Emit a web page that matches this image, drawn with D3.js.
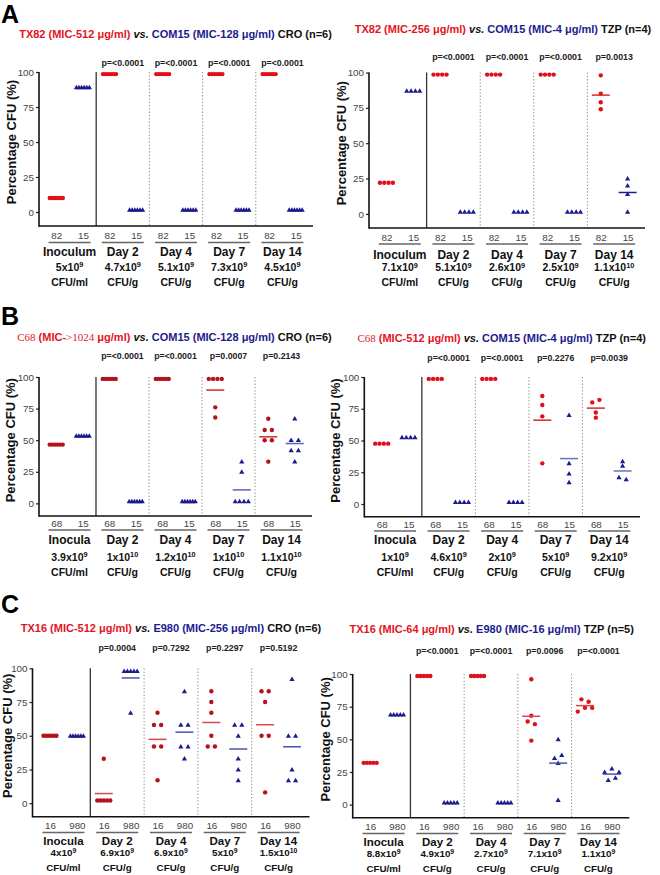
<!DOCTYPE html>
<html><head><meta charset="utf-8">
<script src="https://cdn.jsdelivr.net/npm/d3@7"></script>
<style>body{margin:0;background:#fff} svg{display:block}</style>
</head><body><svg id="c" width="660" height="875"></svg>
<script>
// ================= DATA =================
const groupsA = ["Inoculum", "Day 2", "Day 4", "Day 7", "Day 14"];
const groupsBC = ["Inocula", "Day 2", "Day 4", "Day 7", "Day 14"];
const yTickValues = [0, 25, 50, 75, 100];
const yLabelText = "Percentage CFU (%)";
const unitsRow = ["CFU/ml", "CFU/g", "CFU/g", "CFU/g", "CFU/g"];

// Panel A left: TX82 vs COM15, CRO (n=6)
const aLeftTitle = [["TX82 (MIC-512 μg/ml) ", "red"], ["vs.", "blackItalic"], [" COM15 (MIC-128 μg/ml)", "blue"], [" CRO (n=6)", "black"]];
const aLeftStrains = ["82", "15"];
const aLeftRed = [[10,10,10,10,10,10],[98.5,98.5,98.5,98.5,98.5,98.5],[98.5,98.5,98.5,98.5,98.5,98.5],[98.5,98.5,98.5,98.5,98.5,98.5],[98.5,98.5,98.5,98.5,98.5,98.5]];
const aLeftBlue = [[89,89,89,89,89,89],[1.5,1.5,1.5,1.5,1.5,1.5],[1.5,1.5,1.5,1.5,1.5,1.5],[1.5,1.5,1.5,1.5,1.5,1.5],[1.5,1.5,1.5,1.5,1.5,1.5]];
const aLeftP = ["p=<0.0001", "p=<0.0001", "p=<0.0001", "p=<0.0001"];
const aLeftCfuBase = ["5", "4.7", "5.1", "7.3", "4.5"];
const aLeftCfuExp = ["9", "9", "9", "9", "9"];

// Panel A right: TX82 vs COM15, TZP (n=4)
const aRightTitle = [["TX82 (MIC-256 μg/ml) ", "red"], ["vs.", "blackItalic"], [" COM15 (MIC-4 μg/ml)", "blue"], [" TZP (n=4)", "black"]];
const aRightStrains = ["82", "15"];
const aRightRed = [[22,22,22,22],[98.5,98.5,98.5,98.5],[98.5,98.5,98.5,98.5],[98.5,98.5,98.5,98.5],[98,85,79,74]];
const aRightBlue = [[87,87,87,87],[1.5,1.5,1.5,1.5],[1.5,1.5,1.5,1.5],[1.5,1.5,1.5,1.5],[25,20,14,1.5]];
const aRightP = ["p=<0.0001", "p=<0.0001", "p=<0.0001", "p=0.0013"];
const aRightCfuBase = ["7.1", "5.1", "2.6", "2.5", "1.1"];
const aRightCfuExp = ["9", "9", "9", "9", "10"];

// Panel B left: C68 vs COM15, CRO (n=6)
const bLeftTitle = [["C68", "redSerif"], [" (MIC-", "red"], [">1024", "redSerif"], [" μg/ml) ", "red"], ["vs.", "blackItalic"], [" COM15 (MIC-128 μg/ml)", "blue"], [" CRO (n=6)", "black"]];
const bLeftStrains = ["68", "15"];
const bLeftRed = [[46.5,46.5,46.5,46.5,46.5,46.5],[98.5,98.5,98.5,98.5,98.5,98.5],[98.5,98.5,98.5,98.5,98.5,98.5],[98.5,98.5,98.5,98.5,76,68],[67,58,58,50,50,33]];
const bLeftBlue = [[53.5,53.5,53.5,53.5,53.5,53.5],[1.5,1.5,1.5,1.5,1.5,1.5],[1.5,1.5,1.5,1.5,1.5,1.5],[33,25,1.5,1.5,1.5,1.5],[67,50,50,42,42,33]];
const bLeftP = ["p=<0.0001", "p=<0.0001", "p=0.0007", "p=0.2143"];
const bLeftCfuBase = ["3.9", "1", "1.2", "1", "1.1"];
const bLeftCfuExp = ["9", "10", "10", "10", "10"];

// Panel B right: C68 vs COM15, TZP (n=4)
const bRightTitle = [["C68", "redSerif"], [" (MIC-512 μg/ml) ", "red"], ["vs.", "blackItalic"], [" COM15 (MIC-4 μg/ml)", "blue"], [" TZP (n=4)", "black"]];
const bRightStrains = ["68", "15"];
const bRightRed = [[47.5,47.5,47.5,47.5],[98.5,98.5,98.5,98.5],[98.5,98.5,98.5,98.5],[85,78,69,32],[80,82,72,68]];
const bRightBlue = [[52.5,52.5,52.5,52.5],[1.5,1.5,1.5,1.5],[1.5,1.5,1.5,1.5],[70,32,24,17],[33.5,30,21,19.5]];
const bRightP = ["p=<0.0001", "p=<0.0001", "p=0.2276", "p=0.0039"];
const bRightCfuBase = ["1", "4.6", "2", "5", "9.2"];
const bRightCfuExp = ["9", "9", "9", "9", "9"];

// Panel C left: TX16 vs E980, CRO (n=6)
const cLeftTitle = [["TX16 (MIC-512 μg/ml) ", "red"], ["vs.", "blackItalic"], [" E980 (MIC-256 μg/ml)", "blue"], [" CRO (n=6)", "black"]];
const cLeftStrains = ["16", "980"];
const cLeftRed = [[50,50,50,50,50,50],[33,2,2,2,2,2],[67,58,58,42,42,17],[83,75,67,50,42,42],[83,83,75,50,50,8]];
const cLeftBlue = [[50,50,50,50,50,50],[98,98,98,98,98,67],[83,58,58,42,42,33],[58,58,50,33,25,17],[92,50,50,25,17,17]];
const cLeftP = ["p=0.0004", "p=0.7292", "p=0.2297", "p=0.5192"];
const cLeftCfuBase = ["4", "6.9", "6.9", "5", "1.5"];
const cLeftCfuExp = ["9", "9", "9", "9", "10"];

// Panel C right: TX16 vs E980, TZP (n=5)
const cRightTitle = [["TX16 (MIC-64 μg/ml) ", "red"], ["vs.", "blackItalic"], [" E980 (MIC-16 μg/ml)", "blue"], [" TZP (n=5)", "black"]];
const cRightStrains = ["16", "980"];
const cRightRed = [[32,32,32,32,32],[98.5,98.5,98.5,98.5,98.5],[98.5,98.5,98.5,98.5,98.5],[96,68,63.6,61.6,49],[80.6,78.8,71.2,74.2,74.2]];
const cRightBlue = [[69,69,69,69,69],[1.5,1.5,1.5,1.5,1.5],[1.5,1.5,1.5,1.5,1.5],[50,35.6,38,31.8,3.5],[25,27.6,25,18.7,20.5]];
const cRightP = ["p=<0.0001", "p=<0.0001", "p=0.0096", "p=<0.0001"];
const cRightCfuBase = ["8.8", "4.9", "2.7", "7.1", "1.1"];
const cRightCfuExp = ["9", "9", "9", "9", "9"];

// ================= STYLE / LAYOUT =================
const SANS = '"Liberation Sans", Arial, Helvetica, sans-serif';
const SERIF = '"Liberation Serif", "Times New Roman", serif';
const COLORS = { red: "#e3141d", blue: "#1b1b8e", black: "#111" };
const svg = d3.select("#c");

const layouts = {
  aL: { x0: 39, x1: 313, yTop: 72, yAxis: 226, titleCx: 175.5, titleY: 37.5, pY: 65.5, tickY: 239, ulY: 242.5, groupY: 255.5, cfuY: 270.5, unitY: 286, ylabX: 11, gFs: 12, cFs: 10.5, dot: "#e0101a", redMean: "#d62a2a", blueMean: "#1b1b8e" },
  aR: { x0: 369, x1: 645, yTop: 72.5, yAxis: 228, titleCx: 503, titleY: 32.5, pY: 59.5, tickY: 240.5, ulY: 244, groupY: 258.5, cfuY: 271, unitY: 286, ylabX: 341, gFs: 12, cFs: 10.5, dot: "#e0101a", redMean: "#d62a2a", blueMean: "#1b1b8e" },
  bL: { x0: 39, x1: 312, yTop: 377, yAxis: 516, titleCx: 174.5, titleY: 341, pY: 359, tickY: 527, ulY: 530, groupY: 544, cfuY: 560.5, unitY: 575.5, ylabX: 10, gFs: 12, cFs: 10.5, dot: "#b3121c", redMean: "#d42a2a", blueMean: "#5a64b8" },
  bR: { x0: 364.3, x1: 640, yTop: 377, yAxis: 516.7, titleCx: 501.7, titleY: 342, pY: 361, tickY: 528, ulY: 531, groupY: 544, cfuY: 560.5, unitY: 575.5, ylabX: 335.5, gFs: 12, cFs: 10.5, dot: "#e0101a", redMean: "#d42a2a", blueMean: "#6a72c0" },
  cL: { x0: 32.5, x1: 309.5, yTop: 668.3, yAxis: 816.7, titleCx: 171, titleY: 632, pY: 651, tickY: 829.5, ulY: 832.5, groupY: 844.5, cfuY: 856, unitY: 870.5, ylabX: 7, gFs: 11.5, cFs: 9.8, dot: "#b3121c", redMean: "#d9474d", blueMean: "#4a55b0" },
  cR: { x0: 352.7, x1: 629.3, yTop: 674, yAxis: 817.7, titleCx: 491.7, titleY: 633, pY: 654, tickY: 830.5, ulY: 833.5, groupY: 845.5, cfuY: 857, unitY: 871.5, ylabX: 325, gFs: 11.5, cFs: 9.8, dot: "#e0101a", redMean: "#d9474d", blueMean: "#4a55b0" }
};

function segStyle(sel, kind) {
  if (kind === "red") sel.attr("fill", COLORS.red);
  else if (kind === "redSerif") sel.attr("fill", COLORS.red).attr("font-family", SERIF).attr("font-weight", "normal");
  else if (kind === "blue") sel.attr("fill", COLORS.blue);
  else if (kind === "blackItalic") sel.attr("fill", COLORS.black).attr("font-style", "italic");
  else sel.attr("fill", COLORS.black);
}

function layoutPoints(vals, cx, y) {
  const out = new Array(vals.length);
  const order = vals.map((v, i) => i).sort((a, b) => vals[b] - vals[a]);
  const rows = [];
  let cur = [order[0]];
  for (let k = 1; k < order.length; k++) {
    if (Math.abs(y(vals[order[k]]) - y(vals[order[k - 1]])) < 4.2) cur.push(order[k]);
    else { rows.push(cur); cur = [order[k]]; }
  }
  rows.push(cur);
  rows.forEach(r => {
    r.sort((a, b) => a - b);
    const n = r.length;
    const sp = n <= 3 ? 7.2 : 13 / (n - 1);
    r.forEach((i, j) => { out[i] = { x: cx + (j - (n - 1) / 2) * sp, y: y(vals[i]) }; });
  });
  return out;
}

const triPath = "M0,-2.6L2.6,1.9L-2.6,1.9Z";

function drawPanel(L, title, groups, strains, red, blue, pvals, cfuBase, cfuExp) {
  const g = svg.append("g");
  const x = d3.scaleLinear().domain([-0.65, 9.65]).range([L.x0, L.x1]);
  const y = d3.scaleLinear().domain([-10, 100]).range([L.yAxis, L.yTop]);

  // title
  const t = g.append("text").attr("x", L.titleCx).attr("y", L.titleY).attr("text-anchor", "middle")
    .attr("font-family", SANS).attr("font-weight", "bold").attr("font-size", 11);
  title.forEach(([txt, kind]) => segStyle(t.append("tspan").text(txt), kind));

  // separators
  for (let s = 0; s < 4; s++) {
    const xs = x(2 * s + 1.5);
    g.append("line").attr("x1", xs).attr("x2", xs).attr("y1", L.yTop).attr("y2", L.yAxis)
      .attr("stroke", s === 0 ? "#333" : "#8a8a8a").attr("stroke-width", s === 0 ? 1.3 : 1)
      .attr("stroke-dasharray", s === 0 ? null : "1.3,2");
  }

  // y axis
  const ya = g.append("g").attr("transform", `translate(${L.x0},0)`)
    .call(d3.axisLeft(y).tickValues(yTickValues).tickSize(3).tickPadding(2));
  ya.select(".domain").remove();
  ya.selectAll(".tick line").attr("stroke", "#222").attr("stroke-width", 1.2);
  ya.selectAll(".tick text").attr("font-family", SANS).attr("font-size", 9.8).attr("fill", "#444");
  g.append("line").attr("x1", L.x0).attr("x2", L.x0).attr("y1", L.yTop).attr("y2", L.yAxis + 0.8)
    .attr("stroke", "#111").attr("stroke-width", 1.6);

  // x axis
  const positions = d3.range(10);
  const xa = g.append("g").attr("transform", `translate(0,${L.yAxis})`)
    .call(d3.axisBottom(x).tickValues(positions).tickSize(0).tickPadding(0).tickFormat(i => strains[i % 2]));
  xa.select(".domain").remove();
  xa.selectAll(".tick text").attr("font-family", SANS).attr("font-size", 9.8).attr("fill", "#444")
    .attr("dy", null).attr("y", L.tickY - L.yAxis);
  g.append("line").attr("x1", L.x0).attr("x2", L.x1).attr("y1", L.yAxis).attr("y2", L.yAxis)
    .attr("stroke", "#111").attr("stroke-width", 1.6);

  // group underlines, labels, cfu, p-values
  groups.forEach((name, gi) => {
    const cx = (x(2 * gi) + x(2 * gi + 1)) / 2;
    g.append("line").attr("x1", cx - 21).attr("x2", cx + 21).attr("y1", L.ulY).attr("y2", L.ulY)
      .attr("stroke", "#666").attr("stroke-width", 1.4);
    g.append("text").attr("x", cx).attr("y", L.groupY).attr("text-anchor", "middle")
      .attr("font-family", SANS).attr("font-weight", "bold").attr("font-size", L.gFs).attr("fill", "#111").text(name);
    const c = g.append("text").attr("x", cx).attr("y", L.cfuY).attr("text-anchor", "middle")
      .attr("font-family", SANS).attr("font-weight", "bold").attr("font-size", L.cFs).attr("fill", "#111");
    c.append("tspan").text(cfuBase[gi] + "x10");
    c.append("tspan").attr("dy", -3.5).attr("font-size", L.cFs * 0.7).text(cfuExp[gi]);
    g.append("text").attr("x", cx).attr("y", L.unitY).attr("text-anchor", "middle")
      .attr("font-family", SANS).attr("font-weight", "bold").attr("font-size", L.cFs).attr("fill", "#111").text(unitsRow[gi]);
    if (gi > 0) {
      g.append("text").attr("x", cx).attr("y", L.pY).attr("text-anchor", "middle")
        .attr("font-family", SANS).attr("font-weight", "bold").attr("font-size", 8.8).attr("fill", "#222").text(pvals[gi - 1]);
    }
  });

  // y label
  g.append("text").attr("transform", `translate(${L.ylabX},${(L.yTop + y(0)) / 2}) rotate(-90)`)
    .attr("text-anchor", "middle").attr("dominant-baseline", "central")
    .attr("font-family", SANS).attr("font-weight", "bold").attr("font-size", 13).attr("fill", "#111").text(yLabelText);

  // points + means
  groups.forEach((name, gi) => {
    const rv = red[gi], bv = blue[gi];
    const rp = layoutPoints(rv, x(2 * gi), y);
    const bp = layoutPoints(bv, x(2 * gi + 1), y);
    g.selectAll(null).data(rp).enter().append("circle")
      .attr("cx", d => d.x).attr("cy", d => d.y).attr("r", 2.2).attr("fill", L.dot);
    g.selectAll(null).data(bp).enter().append("path")
      .attr("d", triPath).attr("transform", d => `translate(${d.x},${d.y})`).attr("fill", COLORS.blue);
    [[rv, 2 * gi, L.redMean], [bv, 2 * gi + 1, L.blueMean]].forEach(([vals, pos, col]) => {
      const ext = d3.extent(vals);
      if (ext[1] - ext[0] > 0.01) {
        const m = d3.mean(vals);
        g.append("line").attr("x1", x(pos) - 9).attr("x2", x(pos) + 9).attr("y1", y(m)).attr("y2", y(m))
          .attr("stroke", col).attr("stroke-width", 1.5);
      }
    });
  });
}

drawPanel(layouts.aL, aLeftTitle, groupsA, aLeftStrains, aLeftRed, aLeftBlue, aLeftP, aLeftCfuBase, aLeftCfuExp);
drawPanel(layouts.aR, aRightTitle, groupsA, aRightStrains, aRightRed, aRightBlue, aRightP, aRightCfuBase, aRightCfuExp);
drawPanel(layouts.bL, bLeftTitle, groupsBC, bLeftStrains, bLeftRed, bLeftBlue, bLeftP, bLeftCfuBase, bLeftCfuExp);
drawPanel(layouts.bR, bRightTitle, groupsBC, bRightStrains, bRightRed, bRightBlue, bRightP, bRightCfuBase, bRightCfuExp);
drawPanel(layouts.cL, cLeftTitle, groupsBC, cLeftStrains, cLeftRed, cLeftBlue, cLeftP, cLeftCfuBase, cLeftCfuExp);
drawPanel(layouts.cR, cRightTitle, groupsBC, cRightStrains, cRightRed, cRightBlue, cRightP, cRightCfuBase, cRightCfuExp);

// panel letters
[["A", 1, 23], ["B", 1, 325], ["C", 1, 613]].forEach(([l, lx, ly]) => {
  svg.append("text").attr("x", lx).attr("y", ly).attr("font-family", SANS).attr("font-weight", "bold")
    .attr("font-size", 25).attr("fill", "#000").text(l);
});
</script></body></html>
